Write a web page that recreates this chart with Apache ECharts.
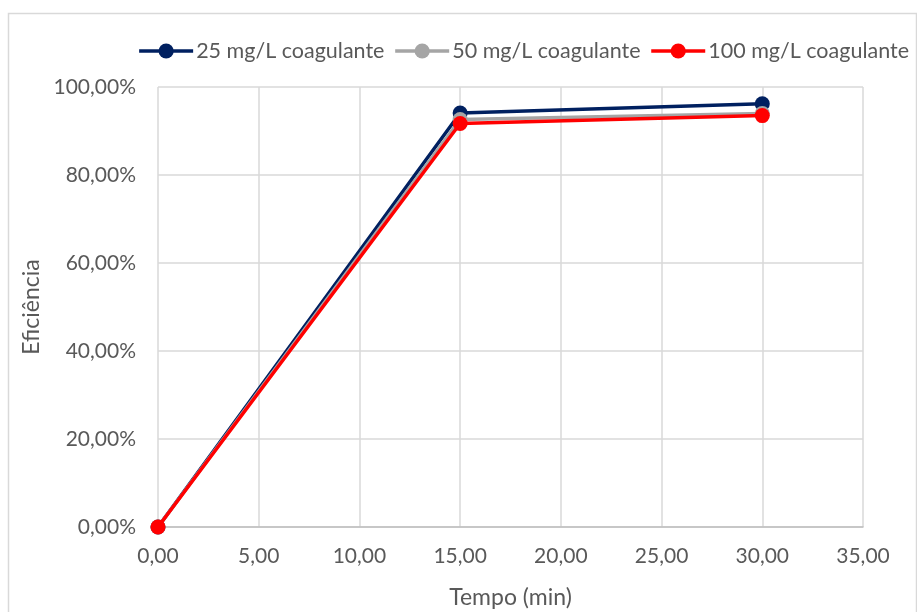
<!DOCTYPE html>
<html>
<head>
<meta charset="utf-8">
<script src="https://cdn.jsdelivr.net/npm/echarts@6/dist/echarts.min.js"></script>
<style>
  html, body { margin: 0; padding: 0; background: #fff; }
  #chart { width: 917px; height: 612px; }
</style>
</head>
<body>
<div id="chart"></div>
<script>
// Sampling times (min)
const tempo = [0, 15, 30];
// Removal efficiency (%) per coagulant dose
const dose25 = [0, 94.1, 96.2];
const dose50 = [0, 92.6, 94.0];
const dose100 = [0, 91.7, 93.5];
const seriesNames = ['25 mg/L coagulante', '50 mg/L coagulante', '100 mg/L coagulante'];
const seriesColors = ['#002060', '#A5A5A5', '#FF0000'];

const fmt = (v, d) => v.toFixed(d).replace('.', ',');
const FONT = 'Lato, "Open Sans", sans-serif';
const TXT = '#595959';

const chart = echarts.init(document.getElementById('chart'));
const data = [dose25, dose50, dose100];

chart.setOption({
  animation: false,
  backgroundColor: '#fff',
  graphic: [{
    type: 'rect',
    shape: { x: 8.5, y: 13.5, width: 908, height: 640 },
    style: { fill: 'none', stroke: '#d9d9d9', lineWidth: 1.5 },
    silent: true
  }],
  legend: {
    top: 35,
    right: 3,
    itemGap: 9,
    itemWidth: 54,
    itemHeight: 19,
    lineStyle: { width: 3.5 },
    textStyle: { color: TXT, fontSize: 21.5, fontFamily: FONT, padding: [0, 0, 0, -2] },
    data: seriesNames
  },
  grid: { left: 158, right: 54, top: 87, bottom: 85, containLabel: false, outerBoundsMode: 'none' },
  xAxis: {
    type: 'value',
    min: 0, max: 35, interval: 5,
    name: 'Tempo (min)',
    nameLocation: 'middle',
    nameGap: 59,
    nameTextStyle: { color: TXT, fontSize: 23, fontFamily: FONT },
    axisLine: { show: true, lineStyle: { color: '#bfbfbf', width: 1.5 } },
    axisTick: { show: false },
    axisLabel: { color: TXT, fontSize: 21, fontFamily: FONT, margin: 19, formatter: v => fmt(v, 2) },
    splitLine: { show: true, lineStyle: { color: '#d9d9d9', width: 1.5 } }
  },
  yAxis: {
    type: 'value',
    min: 0, max: 100, interval: 20,
    name: 'Eficiência',
    nameLocation: 'middle',
    nameGap: 115,
    nameTextStyle: { color: TXT, fontSize: 23, fontFamily: FONT },
    axisLine: { show: false },
    axisTick: { show: false },
    axisLabel: { color: TXT, fontSize: 21, fontFamily: FONT, margin: 22, formatter: v => fmt(v, 2) + '%' },
    splitLine: { show: true, lineStyle: { color: '#d9d9d9', width: 1.5 } }
  },
  series: seriesNames.map((n, i) => ({
    name: n,
    type: 'line',
    data: tempo.map((t, j) => [t, data[i][j]]),
    symbol: 'circle',
    symbolSize: 15,
    lineStyle: { color: seriesColors[i], width: 3.5 },
    itemStyle: { color: seriesColors[i] },
    z: 2 + i
  }))
});
</script>
</body>
</html>
